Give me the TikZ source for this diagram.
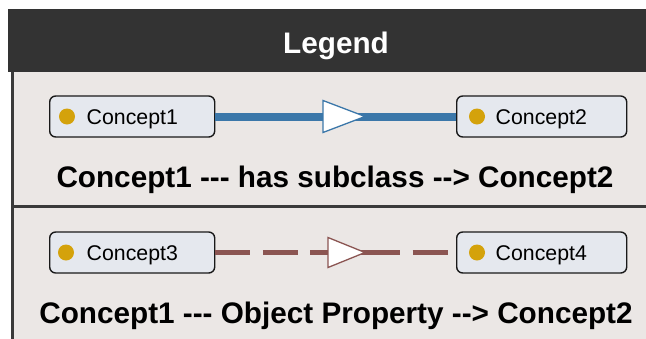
\documentclass[tikz,border=0pt]{standalone}
\usepackage{fontspec}
\setmainfont{Liberation Sans}[Ligatures=TeXOff]
\usetikzlibrary{calc}
\definecolor{hdr}{HTML}{333333}
\definecolor{bodyc}{HTML}{EBE7E5}
\definecolor{brd}{HTML}{3A3A3A}
\definecolor{nodef}{HTML}{E5E8EE}
\definecolor{bluec}{HTML}{3B77A9}
\definecolor{brownc}{HTML}{8B5552}
\definecolor{goldc}{HTML}{D4A20B}
\tikzset{
  concept/.style={draw=black!90, line width=1.4pt, fill=nodef, rounded corners=6pt,
    minimum height=41pt, text width=165pt, inner xsep=0pt, align=left,
    text height=15pt, text depth=0pt,
    font=\fontsize{21.3}{22}\selectfont, anchor=west},
  wide/.style={text width=170pt},
  dotc/.style={fill=goldc},
  caption/.style={font=\bfseries\fontsize{29.7}{31}\selectfont, anchor=base, inner sep=0pt},
  subrel/.style={draw=bluec, line width=8pt},
  objrel/.style={draw=brownc, line width=5.5pt, dash pattern=on 35pt off 12.5pt},
  tri/.style={fill=white, line width=1.3pt, line join=miter},
}
\begin{document}
\begin{tikzpicture}[x=1pt, y=-1pt]
\useasboundingbox (0,0) rectangle (646,338);
% panel
\fill[bodyc] (12,72) rectangle (650,345);
\fill[hdr] (8,9) rectangle (650,72);
\draw[brd, line width=2.5pt] (12.5,72) -- (12.5,345);
\draw[brd, line width=3pt] (12,206.5) -- (650,206.5);
\node[caption, text=white] (leg) at (336,53) {Legend};
% row 1
\node[concept] (c1) at (49,116.5) {\hspace*{37pt}Concept1};
\node[concept, wide] (c2) at (456,116.5) {\hspace*{39pt}Concept2};
\fill[dotc] ([xshift=18pt]c1.west) circle (8pt);
\fill[dotc] ([xshift=21pt]c2.west) circle (8pt);
\draw[subrel] (c1.east) -- (c2.west);
\coordinate (t1) at (365,116.5);
\draw[tri, draw=bluec] (t1) -- ($(t1)+(-42,-16)$) -- ($(t1)+(-42,16)$) -- cycle;
\node[caption] (cap1) at (335,187) {Concept1 --- has subclass --> Concept2};
% row 2
\node[concept] (c3) at (49,252.5) {\hspace*{37pt}Concept3};
\node[concept, wide] (c4) at (456,252.5) {\hspace*{39pt}Concept4};
\fill[dotc] ([xshift=17pt]c3.west) circle (8pt);
\fill[dotc] ([xshift=21pt]c4.west) circle (8pt);
\coordinate (t2) at (365,252.5);
\draw[objrel] (c3.east) -- (t2);
\draw[objrel] (t2) -- (c4.west);
\draw[tri, draw=brownc] (t2) -- ($(t2)+(-37,-15)$) -- ($(t2)+(-37,15)$) -- cycle;
\node[caption] (cap2) at (336,323) {Concept1 --- Object Property --> Concept2};
\end{tikzpicture}
\end{document}
